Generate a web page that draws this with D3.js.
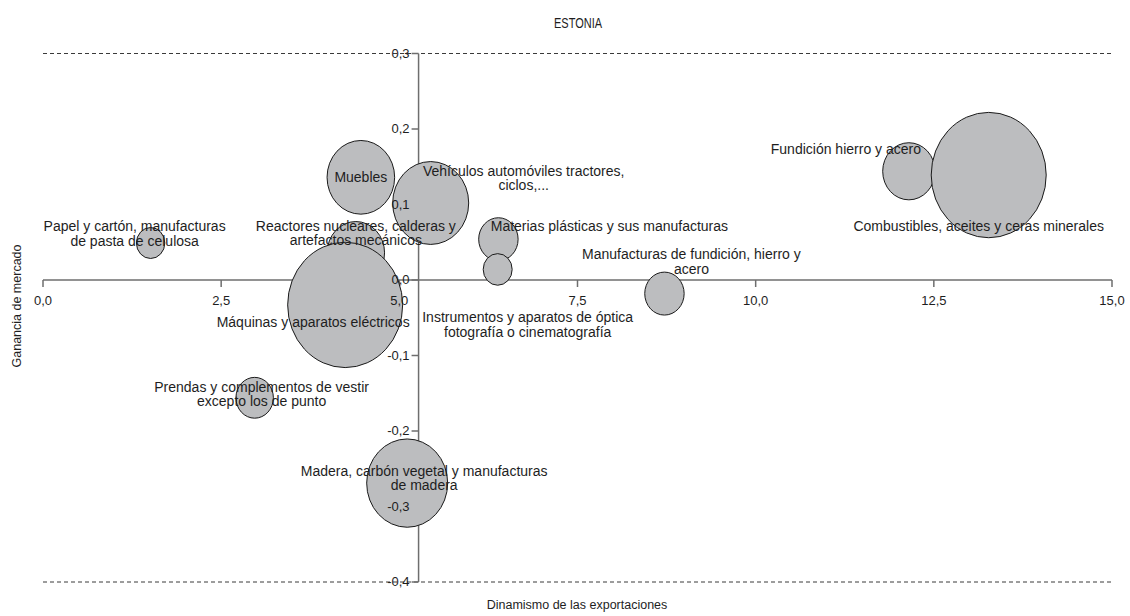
<!DOCTYPE html>
<html>
<head>
<meta charset="utf-8">
<script src="https://cdn.jsdelivr.net/npm/d3@7"></script>
<style>
  html, body { margin: 0; padding: 0; background: #fff; }
  svg { display: block; font-family: "Liberation Sans", Arial, Helvetica, sans-serif; }
</style>
</head>
<body>
<svg id="chart" width="1130" height="616"></svg>
<script>
// Sectores exportadores de Estonia: dinamismo (x), ganancia de mercado (y), peso (burbuja)
const sectores = [
  ["Papel y cartón, manufacturas", "de pasta de celulosa"],
  ["Muebles"],
  ["Vehículos automóviles tractores,", "ciclos,..."],
  ["Reactores nucleares, calderas y", "artefactos mecánicos"],
  ["Máquinas y aparatos eléctricos"],
  ["Materias plásticas y sus manufacturas"],
  ["Instrumentos y aparatos de óptica", "fotografía o cinematografía"],
  ["Manufacturas de fundición, hierro y", "acero"],
  ["Fundición hierro y acero"],
  ["Combustibles, aceites y ceras minerales"],
  ["Prendas y complementos de vestir", "excepto los de punto"],
  ["Madera, carbón vegetal y manufacturas", "de madera"]
];
const dinamismo = [1.51, 4.46, 5.44, 4.39, 4.24, 6.39, 6.38, 8.72, 12.15, 13.27, 2.97, 5.11];
const ganancia  = [0.049, 0.136, 0.102, 0.036, -0.033, 0.054, 0.014, -0.018, 0.144, 0.139, -0.156, -0.269];
const peso      = [1.22, 6.91, 8.74, 4.98, 20.0, 2.35, 1.27, 2.35, 4.15, 20.0, 2.12, 9.92];

const xTicks = [0, 2.5, 5, 7.5, 10, 12.5, 15];
const yTicks = [0.3, 0.2, 0.1, 0.0, -0.1, -0.2, -0.3, -0.4];

// Desplazamiento de cada etiqueta respecto al centro de su burbuja (px)
const labelOffsets = [
  [-16, -15.5], [0, 1], [93, -31], [0, -26], [-32, 18], [111, -12],
  [30, 49], [27, -38], [-63, -20.6], [-10, 52], [7, -9.5], [17, -11]
];

const fmt = v => d3.format(".1f")(v).replace(".", ",").replace("−", "-");

const svg = d3.select("#chart");
const x = d3.scaleLinear().domain([0, 15]).range([43, 1112]);
const y = d3.scaleLinear().domain([-0.4, 0.3]).range([582, 53.5]);
const r = d3.scaleSqrt().domain([0, 20]).range([0, 57.5]);
const stretch = 1.09;
const yAxisAt = 5.27;

const textColor = "#1e1e1e";

// Bordes superior e inferior del área de trazado (discontinuos)
[0.3, -0.4].forEach(v => {
  svg.append("line")
    .attr("x1", x(0)).attr("x2", x(15))
    .attr("y1", y(v)).attr("y2", y(v))
    .attr("stroke", "#3a3a3a").attr("stroke-width", 1)
    .attr("stroke-dasharray", "4,3");
});

// Ejes
const axisColor = "#6e6e6e";
svg.append("line")
  .attr("x1", x(0)).attr("x2", x(15))
  .attr("y1", y(0)).attr("y2", y(0))
  .attr("stroke", axisColor).attr("stroke-width", 1.5);
svg.append("line")
  .attr("x1", x(yAxisAt)).attr("x2", x(yAxisAt))
  .attr("y1", y(0.3)).attr("y2", y(-0.4))
  .attr("stroke", axisColor).attr("stroke-width", 1.5);

// Marcas de graduación
svg.append("g").selectAll("line").data(xTicks).join("line")
  .attr("x1", d => x(d)).attr("x2", d => x(d))
  .attr("y1", y(0)).attr("y2", y(0) + 7)
  .attr("stroke", axisColor).attr("stroke-width", 1.5);
svg.append("g").selectAll("line").data(yTicks).join("line")
  .attr("x1", x(yAxisAt) - 7).attr("x2", x(yAxisAt))
  .attr("y1", d => y(d)).attr("y2", d => y(d))
  .attr("stroke", axisColor).attr("stroke-width", 1.5);

// Burbujas
const data = sectores.map((s, i) => ({
  lines: s, x: dinamismo[i], y: ganancia[i], size: peso[i], off: labelOffsets[i]
}));

svg.append("g").selectAll("ellipse").data(data).join("ellipse")
  .attr("cx", d => x(d.x))
  .attr("cy", d => y(d.y))
  .attr("rx", d => r(d.size))
  .attr("ry", d => r(d.size) * stretch)
  .attr("fill", "#bcbdbf")
  .attr("stroke", "#1a1a1a")
  .attr("stroke-width", 1);

// Rótulos de los ejes
svg.append("g").selectAll("text").data(xTicks).join("text")
  .attr("x", d => x(d)).attr("y", y(0) + 22)
  .attr("text-anchor", "middle").attr("dominant-baseline", "middle")
  .attr("font-size", 13).attr("fill", textColor)
  .text(fmt);
svg.append("g").selectAll("text").data(yTicks).join("text")
  .attr("x", x(yAxisAt) - 9).attr("y", d => y(d) + 1)
  .attr("text-anchor", "end").attr("dominant-baseline", "middle")
  .attr("font-size", 13).attr("fill", textColor)
  .text(fmt);

// Etiquetas de datos
const lineH = 14.4;
const labels = svg.append("g").selectAll("text").data(data).join("text")
  .attr("text-anchor", "middle")
  .attr("font-size", 14).attr("fill", textColor);
labels.each(function(d) {
  const t = d3.select(this);
  const cx = x(d.x) + d.off[0];
  const cy = y(d.y) + d.off[1];
  d.lines.forEach((ln, k) => {
    t.append("tspan")
      .attr("x", cx).attr("y", cy + k * lineH)
      .attr("dominant-baseline", "middle")
      .text(ln);
  });
});

// Título y títulos de los ejes
svg.append("text")
  .attr("x", 578).attr("y", 24)
  .attr("text-anchor", "middle").attr("dominant-baseline", "middle")
  .attr("font-size", 14).attr("fill", textColor)
  .attr("textLength", 48).attr("lengthAdjust", "spacingAndGlyphs")
  .text("ESTONIA");
svg.append("text")
  .attr("x", 577).attr("y", 606)
  .attr("text-anchor", "middle").attr("dominant-baseline", "middle")
  .attr("font-size", 12.5).attr("fill", textColor)
  .text("Dinamismo de las exportaciones");
svg.append("text")
  .attr("transform", "translate(18,306) rotate(-90)")
  .attr("text-anchor", "middle").attr("dominant-baseline", "middle")
  .attr("font-size", 12.5).attr("fill", textColor)
  .text("Ganancia de mercado");
</script>
</body>
</html>
